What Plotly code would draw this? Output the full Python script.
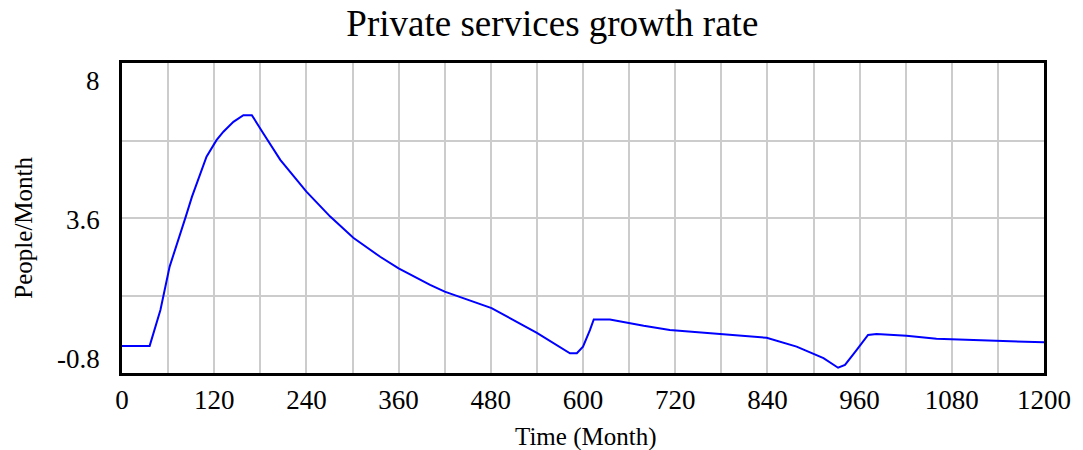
import plotly.graph_objects as go

# Simulation output: private services growth rate over time
time_month = [0, 36, 50, 62, 83, 91, 110, 123, 132, 145, 158, 169, 184, 206, 240,
              271, 301, 336, 360, 388, 401, 420, 481, 540, 583, 592, 600, 609, 614,
              635, 661, 679, 713, 757, 781, 804, 839, 878, 913, 932, 941, 956, 971,
              982, 1021, 1060, 1108, 1173, 1200]
growth_rate = [-0.03, -0.03, 0.99, 2.22, 3.64, 4.2, 5.34, 5.81, 6.05, 6.33, 6.52, 6.52,
               6.0, 5.25, 4.35, 3.64, 3.04, 2.50, 2.17, 1.84, 1.70, 1.51, 1.04, 0.34,
               -0.24, -0.24, -0.05, 0.42, 0.72, 0.72, 0.61, 0.54, 0.42, 0.34, 0.31,
               0.27, 0.20, -0.05, -0.38, -0.65, -0.57, -0.15, 0.28, 0.31, 0.26, 0.17,
               0.13, 0.09, 0.07]

x_ticks = [0, 120, 240, 360, 480, 600, 720, 840, 960, 1080, 1200]
y_labels = [8, 3.6, -0.8]
y_min, y_max = -0.8, 8

FONT = "Liberation Serif, Times New Roman, serif"

fig = go.Figure()
fig.add_trace(go.Scatter(
    x=time_month, y=growth_rate, mode="lines",
    line=dict(color="#0000ff", width=2),
    showlegend=False, hoverinfo="x+y",
))

fig.update_layout(
    width=1083, height=450,
    margin=dict(l=122, r=39, t=63, b=77),
    paper_bgcolor="white", plot_bgcolor="white",
    title=dict(text="Private services growth rate", x=0.51, xanchor="center",
               y=0.948, yanchor="middle",
               font=dict(family=FONT, size=37, color="black")),
    xaxis=dict(
        range=[0, 1200], tickmode="array", tickvals=x_ticks,
        ticktext=[str(v) for v in x_ticks],
        tickfont=dict(family=FONT, size=27, color="black"),
        ticks="outside", ticklen=1, tickcolor="rgba(0,0,0,0)",
        showgrid=True, gridcolor="#cccccc", gridwidth=1.5,
        minor=dict(dtick=60, showgrid=True, gridcolor="#cccccc", gridwidth=1.5),
        showline=True, linecolor="black", linewidth=3, mirror=True,
        zeroline=False, fixedrange=True,
    ),
    yaxis=dict(
        range=[y_min, y_max], tick0=y_min, dtick=2.2, showticklabels=False,
        showgrid=True, gridcolor="#cccccc", gridwidth=1.5,
        showline=True, linecolor="black", linewidth=3, mirror=True,
        zeroline=False, fixedrange=True,
    ),
)

# Value labels on the y axis: top and bottom labels sit inside the range
shifts = {8: -18, 3.6: -2, -0.8: 14}
for v in y_labels:
    fig.add_annotation(
        x=-0.022, xref="paper", xanchor="right",
        y=v, yref="y", yanchor="middle", yshift=shifts[v],
        text=str(v), showarrow=False,
        font=dict(family=FONT, size=27, color="black"),
    )

fig.add_annotation(
    x=-0.107, xref="paper", xanchor="center",
    y=0.47, yref="paper", yanchor="middle",
    text="People/Month", textangle=-90, showarrow=False,
    font=dict(family=FONT, size=25, color="black"),
)
fig.add_annotation(
    x=0.503, xref="paper", xanchor="center",
    y=-0.205, yref="paper", yanchor="middle",
    text="Time (Month)", showarrow=False,
    font=dict(family=FONT, size=25, color="black"),
)

fig.write_html("out.html")
